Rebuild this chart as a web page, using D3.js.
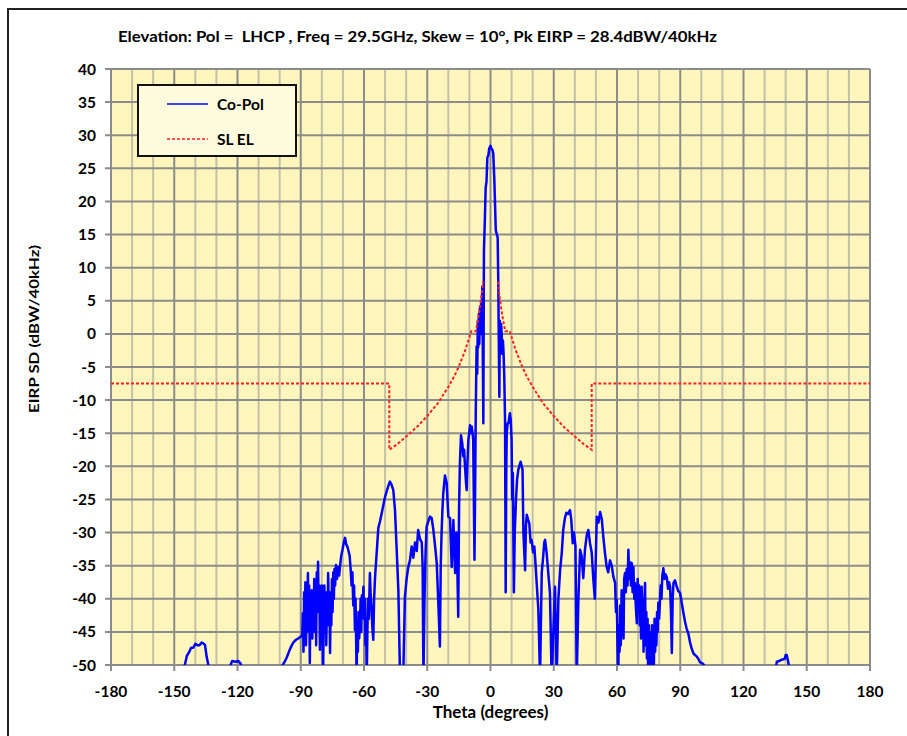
<!DOCTYPE html>
<html>
<head>
<meta charset="utf-8">
<script src="https://cdn.jsdelivr.net/npm/d3@7"></script>
<style>
  body { margin: 0; background: #fff; }
  svg { display: block; font-family: Lato, 'Open Sans', sans-serif; }
  text { white-space: pre; }
</style>
</head>
<body>
<svg id="chart" width="907" height="736"></svg>
<script>
const titleText = 'Elevation: Pol =  LHCP , Freq = 29.5GHz, Skew = 10\u00b0, Pk EIRP = 28.4dBW/40kHz'
const xLabel = 'Theta (degrees)'
const yLabel = 'EIRP SD (dBW/40kHz)'
const xTicks = [-180, -150, -120, -90, -60, -30, 0, 30, 60, 90, 120, 150, 180]
const xMinor = d3.range(-170, 180, 10)
const yTicks = [-50, -45, -40, -35, -30, -25, -20, -15, -10, -5, 0, 5, 10, 15, 20, 25, 30, 35, 40]
const seriesNames = ['Co-Pol', 'SL EL']

// SL EL envelope (theta, dBW/40kHz); null = not drawn (inside main beam)
const slEl = [
  [-180, -7.5], [-48, -7.5], [-48, -17.5], [-44, -16.6], [-40, -15.5], [-35, -14.1], [-30, -12.4],
  [-25, -10.5], [-20, -8.0], [-17, -6.3], [-15, -4.9], [-12, -2.5], [-10, -0.5], [-9.2, 0.4],
  [-7, 0.4], [-6, 2.0], [-5, 4.0], [-4, 6.4], [-3.5, 7.9], [0, null],
  [3.5, 7.9], [4, 6.4], [5, 4.0], [6, 2.0], [7, 0.4], [9.2, 0.4], [10, -0.5], [12, -2.5],
  [15, -4.9], [17, -6.3], [20, -8.0], [25, -10.5], [30, -12.4], [35, -14.1], [40, -15.5],
  [44, -16.6], [48, -17.5], [48, -7.5], [180, -7.5]
]

const coPol = [
  [-180, -60], [-146, -55], [-145, -50], [-144, -48.6], [-143, -48.1], [-142, -47.4], [-141, -47.4],
  [-140, -46.8], [-139, -47.0], [-138, -47.0], [-137, -46.6], [-136, -46.8], [-135.4, -47.0],
  [-134.6, -48.8], [-133.5, -50.5], [-132, -55],
  [-125, -55], [-123.6, -50.2], [-122.5, -49.4], [-121, -49.5], [-119.6, -49.4], [-118.5, -49.8],
  [-117.3, -51], [-115, -55],
  [-101, -55], [-99, -50.2], [-97.6, -49.5], [-96.7, -48.9], [-95.1, -47.6], [-94.2, -47.0],
  [-93.5, -46.6], [-92.3, -46.2], [-91.2, -46.0], [-90, -45.7], [-89.3, -45.7],
  [-89.0, -42.2], [-88.7, -48], [-88.4, -39], [-88.1, -44], [-87.8, -37.5], [-87.5, -47], [-87.2, -40],
  [-86.9, -45], [-86.6, -36.1], [-86.3, -43], [-86.0, -38], [-85.7, -49.7], [-85.4, -40], [-85.1, -44],
  [-84.8, -38.7], [-84.5, -46], [-84.2, -39], [-83.9, -43], [-83.6, -37], [-83.3, -45], [-83.0, -38],
  [-82.7, -47], [-82.4, -36], [-82.1, -41], [-81.8, -34.4], [-81.5, -42], [-81.2, -38], [-80.9, -47.7],
  [-80.6, -40], [-80.3, -44], [-80.0, -38], [-79.7, -46], [-79.4, -52], [-79.1, -42], [-78.8, -38],
  [-78.5, -45], [-78.2, -39], [-77.9, -47], [-77.6, -41], [-77.3, -44], [-77.0, -36.1], [-76.7, -42],
  [-76.4, -39], [-76.1, -48.2], [-75.8, -40], [-75.5, -44], [-75.2, -37], [-74.9, -42], [-74.6, -36],
  [-74.3, -40], [-74.0, -35.5], [-73.7, -38], [-73.3, -34.9], [-72.8, -37], [-72.3, -35.2],
  [-71.8, -36.5], [-71.4, -35.2], [-70.8, -33.5], [-70.2, -32.6], [-69.6, -31.5], [-69.0, -30.8],
  [-68.4, -31.8], [-67.8, -32.2], [-67.5, -32.6], [-66.8, -33.5], [-66.3, -35.7], [-65.9, -38],
  [-65.5, -36], [-65.1, -41], [-64.7, -38], [-64.3, -44.7], [-64.0, -40], [-63.7, -47], [-63.5, -52],
  [-63.2, -44], [-62.9, -48], [-62.6, -42], [-62.3, -46], [-61.9, -43.7], [-61.6, -40], [-61.3, -45],
  [-61.0, -39.5], [-60.6, -42], [-60.3, -38.2], [-60.0, -43], [-59.6, -40], [-59.3, -47], [-59.0, -44],
  [-58.7, -52], [-58.4, -45], [-58.1, -40], [-57.7, -43], [-57.2, -36.1], [-56.9, -39], [-56.5, -41],
  [-56.1, -44], [-55.6, -46.2], [-55.2, -40], [-54.8, -37], [-54.4, -35], [-54.0, -33.1],
  [-53.2, -29.3], [-52.4, -28.3], [-51.6, -27.1], [-50.8, -25.8], [-50.0, -24.6], [-49.0, -23.5],
  [-48.3, -22.8], [-47.7, -22.3], [-46.9, -22.8], [-46.1, -23.6], [-45.3, -26.6], [-44.5, -32.6],
  [-43.7, -38.7], [-42.9, -52], [-41.4, -52], [-40.6, -39.7], [-39.8, -37], [-39.0, -35.2],
  [-38.2, -34.2], [-37.4, -32.1], [-36.6, -33.8], [-35.8, -31.5], [-35.0, -32.8], [-34.3, -29.6],
  [-33.4, -31], [-32.6, -31.5], [-32.2, -35], [-31.8, -52], [-31.3, -40], [-30.8, -33], [-30.3, -29.1],
  [-29.5, -28.3], [-28.7, -27.6], [-27.9, -27.8], [-27.1, -29.6], [-26.3, -32], [-25.5, -34.6],
  [-24.8, -40.2], [-24.0, -47.2], [-23.6, -35], [-23.2, -30], [-22.8, -26.6], [-22.4, -24],
  [-21.6, -21.4], [-20.8, -22.5], [-20.4, -25], [-20.0, -27.6], [-19.2, -27.8], [-18.4, -35.2],
  [-17.6, -28.1], [-16.8, -36.1], [-16.2, -30], [-15.7, -36], [-15.3, -42.7], [-14.9, -26],
  [-14.5, -19.5], [-14.0, -15.3], [-13.4, -16.5], [-12.9, -18.5], [-12.5, -17.5], [-12.1, -20],
  [-11.6, -22.5], [-11.3, -23.6], [-11.0, -20], [-10.5, -16], [-9.7, -13.8], [-9.3, -15], [-8.9, -14],
  [-8.5, -15], [-8.2, -16], [-7.9, -25], [-7.6, -34.1], [-7.3, -24], [-7.0, -12], [-6.6, -1.9],
  [-6.3, -6], [-6.0, 2], [-5.8, -2], [-5.5, 3], [-5.3, -1.5], [-5.0, 4.1], [-4.7, 0], [-4.4, 5],
  [-4.2, 2], [-3.9, 7.1], [-3.6, -5], [-3.4, -13.5], [-3.2, 5], [-3.1, 12.7], [-2.7, 17], [-2.3, 22],
  [-1.9, 23], [-1.5, 26.6], [-1.0, 27], [-0.6, 28], [0, 28.4], [0.4, 28], [0.9, 27.8], [1.3, 27.3],
  [1.8, 23.5], [2.2, 19], [2.5, 15.7], [3.0, 15], [3.4, 14.6], [3.7, 7.7], [3.9, 0], [4.2, -9.5],
  [4.4, 2], [4.7, -3], [5.0, 1.5], [5.3, 0.1], [5.6, -3], [5.9, -1], [6.2, -2.9], [6.5, -6],
  [6.9, -13], [7.2, -39], [7.5, -20], [7.7, -15], [8.1, -13.5], [8.5, -13.5], [9.2, -12], [9.6, -13],
  [10.0, -16], [10.3, -25], [10.6, -21], [11.1, -39], [11.5, -30], [12.1, -25], [12.6, -22],
  [13.2, -20.5], [14.3, -19.3], [15.2, -20.5], [15.6, -30], [16.4, -35.7], [16.8, -29], [17.2, -27.3],
  [17.8, -28], [18.4, -28.6], [19.0, -31.5], [19.5, -31.1], [20.2, -33], [20.8, -32.1], [21.4, -35],
  [21.9, -37.6], [22.7, -41.7], [23.5, -52], [24.3, -36.1], [25.0, -33.6], [25.5, -31.5],
  [25.9, -31.1], [26.6, -33], [27.4, -36.1], [28.2, -39.1], [29.0, -52], [29.8, -45], [30.6, -38.2],
  [31.4, -52], [32.2, -40], [33.0, -35.7], [33.8, -33.1], [34.5, -29.6], [35.3, -27.8], [36.0, -27.0],
  [36.8, -27.2], [37.7, -26.6], [38.3, -28], [39.0, -31.6], [39.6, -30], [40.3, -32], [40.9, -52],
  [41.7, -40], [42.5, -32.6], [43.2, -33.5], [44.0, -36.9], [44.8, -32.6], [45.6, -30.5],
  [46.4, -29.6], [47.2, -31.6], [48.0, -33], [48.8, -37.2], [49.5, -40], [50.4, -27.6], [51.2, -28.5],
  [52.0, -26.9], [52.8, -28], [53.5, -30.6], [54.3, -33.1], [55.1, -35.2], [55.8, -36],
  [56.7, -34.2], [57.5, -35], [58.3, -36.7], [59.1, -37.6], [59.5, -42], [59.9, -40.2], [60.2, -46],
  [60.6, -52], [60.9, -44], [61.2, -48], [61.5, -41], [61.8, -47], [62.2, -38.7], [62.5, -44],
  [62.8, -40], [63.1, -46], [63.4, -37], [63.8, -36.1], [64.2, -39], [64.6, -35.5], [65.0, -38],
  [65.4, -32.6], [65.8, -37], [66.2, -34.5], [66.6, -38], [67.0, -34.6], [67.4, -39], [67.8, -35.2],
  [68.2, -40], [68.5, -37.6], [68.9, -41], [69.4, -43.7], [69.8, -37], [70.2, -41], [70.5, -38],
  [70.8, -44], [71.1, -39], [71.4, -46], [71.7, -38.2], [72.0, -45], [72.3, -40], [72.6, -48],
  [72.9, -41], [73.3, -37.6], [73.6, -47], [73.9, -42], [74.2, -49], [74.5, -43], [74.8, -52],
  [75.1, -44], [75.4, -49], [75.7, -52], [76.0, -45], [76.3, -50], [76.6, -44], [76.9, -49],
  [77.2, -45.8], [77.5, -50], [77.8, -43], [78.1, -48], [78.4, -44], [78.7, -47], [79.0, -42],
  [79.3, -45], [79.6, -40.6], [80.0, -43], [80.4, -40.2], [80.7, -38], [81.1, -40], [81.5, -36.5],
  [82.0, -35.4], [82.5, -37], [83.0, -36.3], [83.6, -36.7], [84.2, -38.5], [84.7, -37.5],
  [85.2, -38.2], [85.6, -42], [86.0, -48.2], [86.4, -40], [86.8, -37.6], [87.5, -37.2], [88.2, -38],
  [89.0, -38.8], [89.9, -39.1], [90.7, -40.6], [91.5, -42.1], [92.3, -43.5], [93.0, -44.5],
  [93.8, -45.2], [94.6, -46.5], [95.4, -47.5], [96.2, -48.2], [97.0, -48.5], [97.8, -48.7],
  [98.6, -49.1], [99.4, -49.6], [100.2, -49.7], [101.0, -49.9], [101.8, -50.3], [103, -55],
  [133, -55], [135.5, -50.2], [135.8, -49.5], [137, -49.4], [138.1, -49.2], [139.5, -49.1],
  [140, -48.5], [140.5, -48.5], [141.2, -49.5], [142, -51], [143, -55], [180, -60]
]

const margin = { left: 111, right: 870, top: 69, bottom: 665 }

const svg = d3.select('#chart')

const xSc = d3.scaleLinear().domain([-180, 180]).range([margin.left, margin.right])
const ySc = d3.scaleLinear().domain([-50, 40]).range([margin.bottom, margin.top])

// outer chart frame (runs off the page to the right and bottom)
svg.append('rect')
  .attr('x', 8).attr('y', 9)
  .attr('width', 960).attr('height', 800)
  .attr('fill', '#fff')
  .attr('stroke', '#222')
  .attr('stroke-width', 2)

// plot background
svg.append('rect')
  .attr('x', margin.left).attr('y', margin.top)
  .attr('width', margin.right - margin.left)
  .attr('height', margin.bottom - margin.top)
  .attr('fill', '#fff6bd')

svg.append('clipPath').attr('id', 'plotclip')
  .append('rect')
  .attr('x', margin.left).attr('y', margin.top)
  .attr('width', margin.right - margin.left)
  .attr('height', margin.bottom - margin.top)

// grid
const grid = svg.append('g')
grid.selectAll('.vminor')
  .data(xMinor.filter(d => d % 30 !== 0))
  .enter().append('line')
  .attr('x1', d => xSc(d)).attr('x2', d => xSc(d))
  .attr('y1', margin.top).attr('y2', margin.bottom)
  .attr('stroke', '#c4c0a8').attr('stroke-width', 2)

grid.selectAll('.hline')
  .data(yTicks)
  .enter().append('line')
  .attr('x1', margin.left - 6).attr('x2', margin.right)
  .attr('y1', d => ySc(d)).attr('y2', d => ySc(d))
  .attr('stroke', '#8c8c88').attr('stroke-width', 2)

grid.selectAll('.vmajor')
  .data(xTicks)
  .enter().append('line')
  .attr('x1', d => xSc(d)).attr('x2', d => xSc(d))
  .attr('y1', margin.top).attr('y2', margin.bottom + 6)
  .attr('stroke', '#8c8c88').attr('stroke-width', 2)

// tick labels
svg.append('g').selectAll('text')
  .data(yTicks)
  .enter().append('text')
  .attr('x', margin.left - 15)
  .attr('y', d => ySc(d))
  .attr('dy', '0.36em')
  .attr('text-anchor', 'end')
  .attr('font-size', 15.5)
  .attr('font-weight', 'bold')
  .text(d => d)

svg.append('g').selectAll('text')
  .data(xTicks)
  .enter().append('text')
  .attr('x', d => xSc(d))
  .attr('y', margin.bottom + 32)
  .attr('text-anchor', 'middle')
  .attr('font-size', 15.5)
  .attr('font-weight', 'bold')
  .text(d => d)

// series
const line = d3.line()
  .defined(d => d[1] !== null)
  .x(d => xSc(d[0]))
  .y(d => ySc(d[1]))

const plot = svg.append('g').attr('clip-path', 'url(#plotclip)')

plot.append('path')
  .datum(coPol)
  .attr('d', line)
  .attr('fill', 'none')
  .attr('stroke', '#0000ff')
  .attr('stroke-width', 2.5)
  .attr('stroke-linejoin', 'round')

plot.append('path')
  .datum(slEl)
  .attr('d', line)
  .attr('fill', 'none')
  .attr('stroke', '#ff2020')
  .attr('stroke-width', 2)
  .attr('stroke-dasharray', '3,2')

// legend
const legend = svg.append('g').attr('transform', 'translate(138,85)')
legend.append('rect')
  .attr('width', 158).attr('height', 71)
  .attr('fill', '#fffbdf')
  .attr('stroke', '#111').attr('stroke-width', 2)
const legendStyles = [
  { stroke: '#0000ff', dash: null },
  { stroke: '#ff2020', dash: '3,2' }
]
seriesNames.forEach(function(name, i) {
  const y = 19 + i * 35
  legend.append('line')
    .attr('x1', 29).attr('x2', 70)
    .attr('y1', y).attr('y2', y)
    .attr('stroke', legendStyles[i].stroke)
    .attr('stroke-width', 1.5)
    .attr('stroke-dasharray', legendStyles[i].dash)
  legend.append('text')
    .attr('x', 79).attr('y', y)
    .attr('dy', '0.36em')
    .attr('font-size', 15.5)
    .attr('font-weight', 'bold')
    .text(name)
})

// titles
svg.append('text')
  .attr('x', 118).attr('y', 42)
  .attr('font-size', 14.5)
  .attr('font-weight', 'bold')
  .attr('textLength', 599)
  .attr('lengthAdjust', 'spacingAndGlyphs')
  .text(titleText)

svg.append('text')
  .attr('x', xSc(0)).attr('y', 718)
  .attr('text-anchor', 'middle')
  .attr('font-size', 17)
  .attr('font-weight', 'bold')
  .text(xLabel)

svg.append('text')
  .attr('transform', `translate(39,${(margin.top + margin.bottom) / 2 - 38}) rotate(-90)`)
  .attr('text-anchor', 'middle')
  .attr('font-size', 14)
  .attr('font-weight', 'bold')
  .attr('textLength', 168)
  .attr('lengthAdjust', 'spacingAndGlyphs')
  .text(yLabel)
</script>
</body>
</html>
